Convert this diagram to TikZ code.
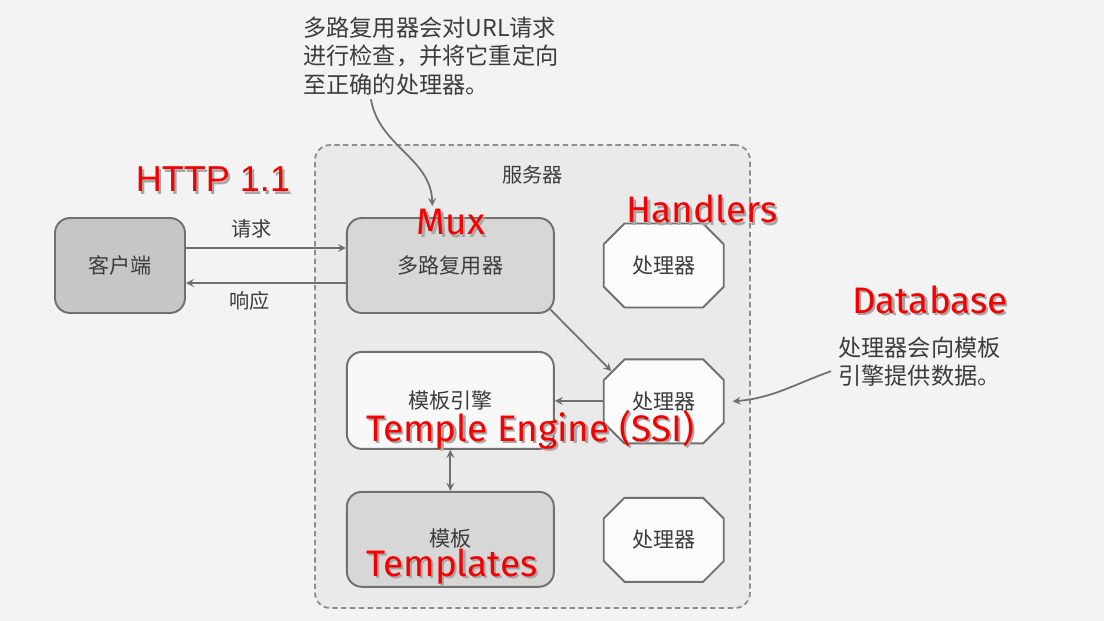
\documentclass[tikz,border=0pt]{standalone}
\usepackage{fontspec}
\usepackage{xcolor}
\usepackage{tikz}
\usetikzlibrary{arrows, positioning, shapes.misc, calc}

\newfontfamily\cjk{Noto Sans CJK SC}
\newfontfamily\redfont{Fira Sans}
\newfontfamily\httpfont{Liberation Sans}

\definecolor{bggray}{HTML}{F3F3F3}
\definecolor{servergray}{HTML}{EAEAEA}
\definecolor{clientgray}{HTML}{C6C6C6}
\definecolor{muxgray}{HTML}{D7D7D7}
\definecolor{enginewhite}{HTML}{F8F8F8}
\definecolor{handlerwhite}{HTML}{FBFBFB}
\definecolor{linegray}{HTML}{707070}
\definecolor{textgray}{HTML}{3C3C3C}
\definecolor{labelred}{HTML}{F50000}

\newcommand{\shadowed}[1]{\makebox[0pt][l]{\kern1.3pt\raisebox{-1.3pt}{\color{black!35}#1}}#1}

\begin{document}
\begin{tikzpicture}[
    x=0.02cm, y=-0.02cm,
    box/.style={draw=linegray, line width=1.1pt, rectangle, rounded corners=0.3cm,
      minimum width=4.14cm, minimum height=1.9cm, align=center,
      font=\cjk\fontsize{12}{14}\selectfont, text=textgray},
    handler/.style={draw=linegray, line width=1.1pt, chamfered rectangle,
      chamfered rectangle xsep=0.22cm, chamfered rectangle ysep=0.22cm,
      minimum width=2.4cm, minimum height=1.68cm, inner sep=0pt, fill=handlerwhite,
      font=\cjk\fontsize{12}{14}\selectfont, text=textgray},
    serverbox/.style={draw=linegray!80, line width=1pt, dash pattern=on 3pt off 2pt,
      rounded corners=0.3cm, fill=servergray, minimum width=8.7cm, minimum height=9.26cm},
    lbl/.style={inner sep=0pt, font=\cjk\fontsize{11.5}{14}\selectfont, text=textgray},
    note/.style={inner sep=0pt, align=left, font=\cjk\fontsize{13.2}{16}\selectfont, text=textgray},
    redlbl/.style={inner sep=0pt, font=\redfont\fontsize{21}{25}\selectfont, text=labelred},
    arrow/.style={draw=linegray, line width=1pt, ->, >=stealth}
]
\fill[bggray] (0,0) rectangle (1104,621);

\node[serverbox] (server) at (532.5,376.5) {};
\node[lbl, below=0.42cm of server.north] (servername) {服务器};

\node[box, fill=clientgray, minimum width=2.6cm] (client) at (120,265.5) {客户端};
\node[box, fill=muxgray, right=3.2cm of client] (mux) {多路复用器};
\node[handler, right=0.96cm of mux] (hdlA) {处理器};
\node[handler, below=1.0cm of hdlA] (hdlB) {处理器};
\node[handler, below=1.05cm of hdlB] (hdlC) {处理器};
\node[box, fill=enginewhite, minimum height=1.94cm, below=0.74cm of mux] (engine) {模板引擎};
\node[box, fill=muxgray, below=0.82cm of engine] (tmpl) {\raisebox{2pt}{模板}};

\node[note, anchor=north west] (muxnote) at (303,17) {多路复用器会对URL请求\\进行检查，并将它重定向\\至正确的处理器。};
\node[note, anchor=north west] (datanote) at (838,337) {处理器会向模板\\引擎提供数据。};

\draw[arrow] ([yshift=0.35cm]client.east) -- ([yshift=0.35cm]mux.west)
  node[lbl, pos=0.41, above=0.17cm] (req) {请求};
\draw[arrow] ([yshift=-0.35cm]mux.west) -- ([yshift=-0.35cm]client.east)
  node[lbl, pos=0.6, below=0.14cm] (resp) {响应};
\draw[arrow] ([shift={(-0.09cm,0.09cm)}]mux.south east) -- (hdlB.150);
\draw[arrow] (hdlB) -- (engine);
\draw[arrow, <->] (engine) -- (tmpl);
\draw[arrow] ([xshift=-1.2cm, yshift=-0.08cm]muxnote.south) to[out=-80, in=92]
  ([xshift=-0.36cm, yshift=0.22cm]mux.north);
\draw[arrow] ([xshift=-0.14cm, yshift=-0.18cm]datanote.west) to[out=200, in=5]
  ([xshift=0.16cm]hdlB.east);

\node[redlbl, anchor=base, font=\httpfont\fontsize{20.5}{25}\selectfont] (http) at (213,192) {\shadowed{HTTP 1.1}};
\node[redlbl, anchor=base] (muxname) at (451,235) {\shadowed{Mux}};
\node[redlbl, anchor=base] (hdlname) at (702,223) {\shadowed{Handlers}};
\node[redlbl, anchor=base] (dbname) at (930,313) {\shadowed{Database}};
\node[redlbl, anchor=base] (enginename) at (530,441) {\shadowed{Temple Engine (SSI)}};
\node[redlbl, anchor=base] (tmplname) at (452,576) {\shadowed{Templates}};
\end{tikzpicture}
\end{document}
